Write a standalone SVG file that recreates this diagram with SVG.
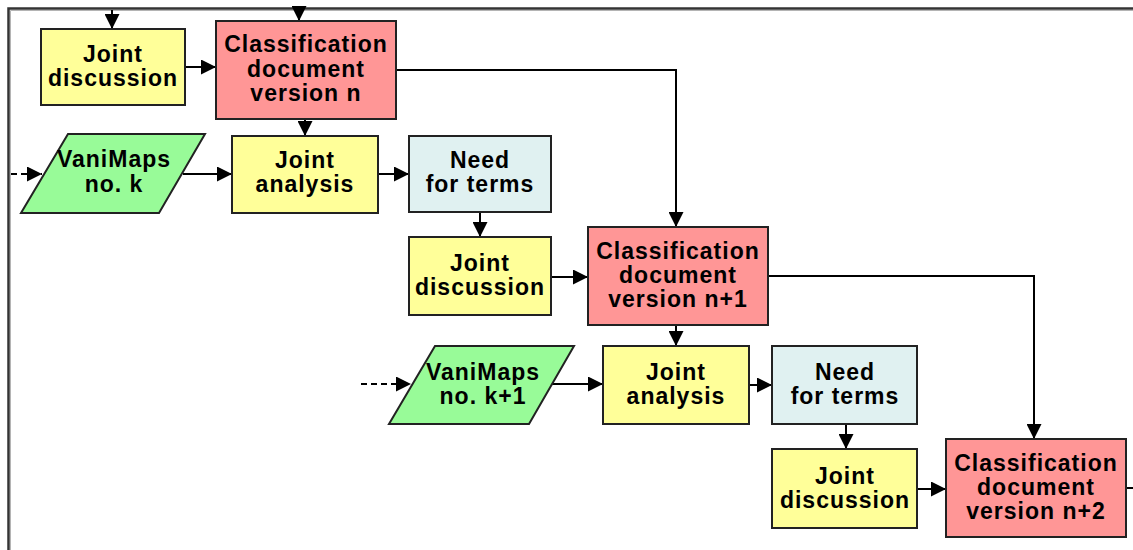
<svg xmlns="http://www.w3.org/2000/svg" width="1133" height="550" viewBox="0 0 1133 550">
<style>
.n{stroke:#222;stroke-width:2}
.y{fill:#FFFF99}
.r{fill:#FF9696}
.g{fill:#98FB98}
.b{fill:#E0F1F1}
text{font-family:"Liberation Sans",Arial,sans-serif;font-weight:bold;font-size:23px;letter-spacing:1px;text-anchor:middle;fill:#000}
.c{fill:none;stroke:#000;stroke-width:2}
.d{stroke-dasharray:6 4}
</style>
<defs>
<marker id="ah" markerUnits="userSpaceOnUse" viewBox="0 0 15 15" refX="15" refY="7.5" markerWidth="15" markerHeight="15" orient="auto">
<path d="M0,0 L15,7.5 L0,15 z" fill="#000"/>
</marker>
</defs>
<rect width="1133" height="550" fill="#fff"/>
<g id="frame">
<path d="M8.5,550 V8.5 H1133" fill="none" stroke="#333" stroke-width="2.5"/>
<path d="M10.5,550 V10.5 H1133" fill="none" stroke="#b4b4b4" stroke-width="1"/>
</g>
<g id="connectors">
<path class="c" d="M112,10 V29" marker-end="url(#ah)"/>
<path class="c" d="M299,10 V21" marker-end="url(#ah)"/>
<path class="c d" d="M11,174 H42" marker-end="url(#ah)"/>
<path class="c" d="M183,174 H232" marker-end="url(#ah)"/>
<path class="c" d="M185,67 H216" marker-end="url(#ah)"/>
<path class="c" d="M305,119 V136" marker-end="url(#ah)"/>
<path class="c" d="M378,174 H409" marker-end="url(#ah)"/>
<path class="c" d="M396,70 H676 V227" marker-end="url(#ah)"/>
<path class="c" d="M480,212 V237" marker-end="url(#ah)"/>
<path class="c" d="M551,277 H588" marker-end="url(#ah)"/>
<path class="c d" d="M361,384 H411" marker-end="url(#ah)"/>
<path class="c" d="M552,384 H603" marker-end="url(#ah)"/>
<path class="c" d="M676,325 V346" marker-end="url(#ah)"/>
<path class="c" d="M749,385 H772" marker-end="url(#ah)"/>
<path class="c" d="M768,276 H1034 V439" marker-end="url(#ah)"/>
<path class="c" d="M846,424 V449" marker-end="url(#ah)"/>
<path class="c" d="M917,489 H946" marker-end="url(#ah)"/>
<path class="c" d="M1126,488 H1133"/>
</g>
<g id="jd1"><rect class="n y" x="41" y="29" width="144" height="76"/><text x="113" y="62">Joint</text><text x="113" y="86">discussion</text></g>
<g id="cn"><rect class="n r" x="216" y="21" width="180" height="98"/><text x="306" y="52">Classification</text><text x="306" y="77">document</text><text x="306" y="101">version n</text></g>
<g id="vk"><polygon class="n g" points="68,134 205,134 159,213 21,213"/><text x="114" y="167">VaniMaps</text><text x="114" y="192">no. k</text></g>
<g id="ja1"><rect class="n y" x="232" y="136" width="146" height="77"/><text x="305" y="168">Joint</text><text x="305" y="192">analysis</text></g>
<g id="nt1"><rect class="n b" x="409" y="136" width="142" height="76"/><text x="480" y="168">Need</text><text x="480" y="192">for terms</text></g>
<g id="jd2"><rect class="n y" x="409" y="237" width="142" height="78"/><text x="480" y="271">Joint</text><text x="480" y="295">discussion</text></g>
<g id="cn1"><rect class="n r" x="588" y="227" width="180" height="98"/><text x="678" y="259">Classification</text><text x="678" y="283">document</text><text x="678" y="307">version n+1</text></g>
<g id="vk1"><polygon class="n g" points="435,346 574,346 529,424 389,424"/><text x="483" y="380">VaniMaps</text><text x="483" y="404">no. k+1</text></g>
<g id="ja2"><rect class="n y" x="603" y="346" width="146" height="78"/><text x="676" y="380">Joint</text><text x="676" y="404">analysis</text></g>
<g id="nt2"><rect class="n b" x="772" y="346" width="145" height="78"/><text x="845" y="380">Need</text><text x="845" y="404">for terms</text></g>
<g id="jd3"><rect class="n y" x="772" y="449" width="145" height="79"/><text x="845" y="484">Joint</text><text x="845" y="508">discussion</text></g>
<g id="cn2"><rect class="n r" x="946" y="439" width="180" height="98"/><text x="1036" y="471">Classification</text><text x="1036" y="495">document</text><text x="1036" y="519">version n+2</text></g>
</svg>
